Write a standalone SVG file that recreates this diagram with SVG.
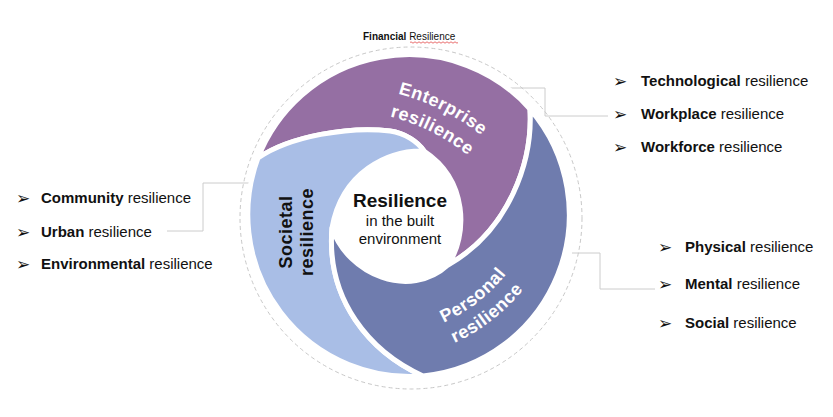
<svg xmlns="http://www.w3.org/2000/svg" width="833" height="417" viewBox="0 0 833 417">
<defs>
<style>
.band{stroke:#fff;stroke-width:5;stroke-linejoin:round}
.blab{font-family:"Liberation Sans",Arial,sans-serif;font-weight:bold;font-size:18px;letter-spacing:0.5px}
.item{font-family:"Liberation Sans",Arial,sans-serif;font-size:15px;fill:#111}
.b{font-weight:bold}
.bul{font-family:"DejaVu Sans",sans-serif;font-size:17px;fill:#111}
.conn{fill:none;stroke:#cccccc;stroke-width:1}
.ctr{font-family:"Liberation Sans",Arial,sans-serif;fill:#111;text-anchor:middle}
</style>
<path id="entP1" d="M343,87 A222,222 0 0 1 520.3,175.4"/>
<path id="entP2" d="M343,111 A198,198 0 0 1 501.1,189.8"/>
<path id="perP1" d="M367.4,337.9 A170,170 0 0 0 539.6,203.3"/>
<path id="perP2" d="M366.6,360.9 A193,193 0 0 0 562.1,208.1"/>
</defs>
<rect width="833" height="417" fill="#fff"/>

<g id="title">
<text x="363" y="40" font-family="Liberation Sans, Arial, sans-serif" font-size="10" fill="#111"><tspan font-weight="bold">Financial</tspan> Resilience</text>
<path d="M410,42.5 q1,-1.4 2,0 t2,0 t2,0 t2,0 t2,0 t2,0 t2,0 t2,0 t2,0 t2,0 t2,0 t2,0 t2,0 t2,0 t2,0 t2,0 t2,0 t2,0 t2,0 t2,0 t2,0 t2,0 t2,0 t2,0" fill="none" stroke="#e03030" stroke-width="0.7"/>
</g>

<circle id="outer-ring" cx="411" cy="218" r="171" fill="none" stroke="#c8c8c8" stroke-width="1" stroke-dasharray="4 3"/>

<g id="connectors">
<path class="conn" d="M509,88 H545 V116 H608"/>
<path class="conn" d="M253,183 H203 V231 H167"/>
<path class="conn" d="M572,253 H600 V289 H655"/>
</g>

<g id="enterprise">
<path class="band" fill="#956FA3" d="M258,158 A162,162 0 0 1 530,109 C533,160 510,230 448,265 C468,235 468,180 424,151 C418,142 405,133 390,131 C350,126 290,136 258,158 Z"/>
<text class="blab" fill="#fff"><textPath href="#entP1" startOffset="50%" text-anchor="middle">Enterprise</textPath></text>
<text class="blab" fill="#fff"><textPath href="#entP2" startOffset="50%" text-anchor="middle">resilience</textPath></text>
</g>

<g id="societal">
<path class="band" fill="#A9BEE6" d="M423,376 A162,162 0 0 1 258,158 C290,136 350,126 390,131 C405,133 418,142 424,151 C388,150 342,172 332,228 C326,300 370,352 423,376 Z"/>
<text class="blab" fill="#111" text-anchor="middle" transform="translate(292,232) rotate(-90)">Societal</text>
<text class="blab" fill="#111" text-anchor="middle" transform="translate(313,232) rotate(-90)">resilience</text>
</g>

<g id="personal">
<path class="band" fill="#6F7CAE" d="M530,109 A162,162 0 0 1 423,376 C370,352 326,300 332,228 C348,275 410,300 448,265 C510,230 533,160 530,109 Z"/>
<text class="blab" fill="#fff"><textPath href="#perP1" startOffset="50%" text-anchor="middle">Personal</textPath></text>
<text class="blab" fill="#fff"><textPath href="#perP2" startOffset="50%" text-anchor="middle">resilience</textPath></text>
</g>

<g id="center">
<text class="ctr" x="400" y="207" font-size="19" font-weight="bold">Resilience</text>
<text class="ctr" x="400" y="226" font-size="15">in the built</text>
<text class="ctr" x="400" y="244" font-size="15">environment</text>
</g>

<g id="societal-list">
<text class="bul" x="16" y="204">➢</text>
<text class="item" x="41" y="203"><tspan class="b">Community</tspan> resilience</text>
<text class="bul" x="16" y="238">➢</text>
<text class="item" x="41" y="237"><tspan class="b">Urban</tspan> resilience</text>
<text class="bul" x="16" y="270">➢</text>
<text class="item" x="41" y="269"><tspan class="b">Environmental</tspan> resilience</text>
</g>

<g id="enterprise-list">
<text class="bul" x="613" y="87">➢</text>
<text class="item" x="641" y="86"><tspan class="b">Technological</tspan> resilience</text>
<text class="bul" x="613" y="120">➢</text>
<text class="item" x="641" y="119"><tspan class="b">Workplace</tspan> resilience</text>
<text class="bul" x="613" y="153">➢</text>
<text class="item" x="641" y="152"><tspan class="b">Workforce</tspan> resilience</text>
</g>

<g id="personal-list">
<text class="bul" x="658" y="253">➢</text>
<text class="item" x="685" y="252"><tspan class="b">Physical</tspan> resilience</text>
<text class="bul" x="658" y="290">➢</text>
<text class="item" x="685" y="289"><tspan class="b">Mental</tspan> resilience</text>
<text class="bul" x="658" y="329">➢</text>
<text class="item" x="685" y="328"><tspan class="b">Social</tspan> resilience</text>
</g>
</svg>
